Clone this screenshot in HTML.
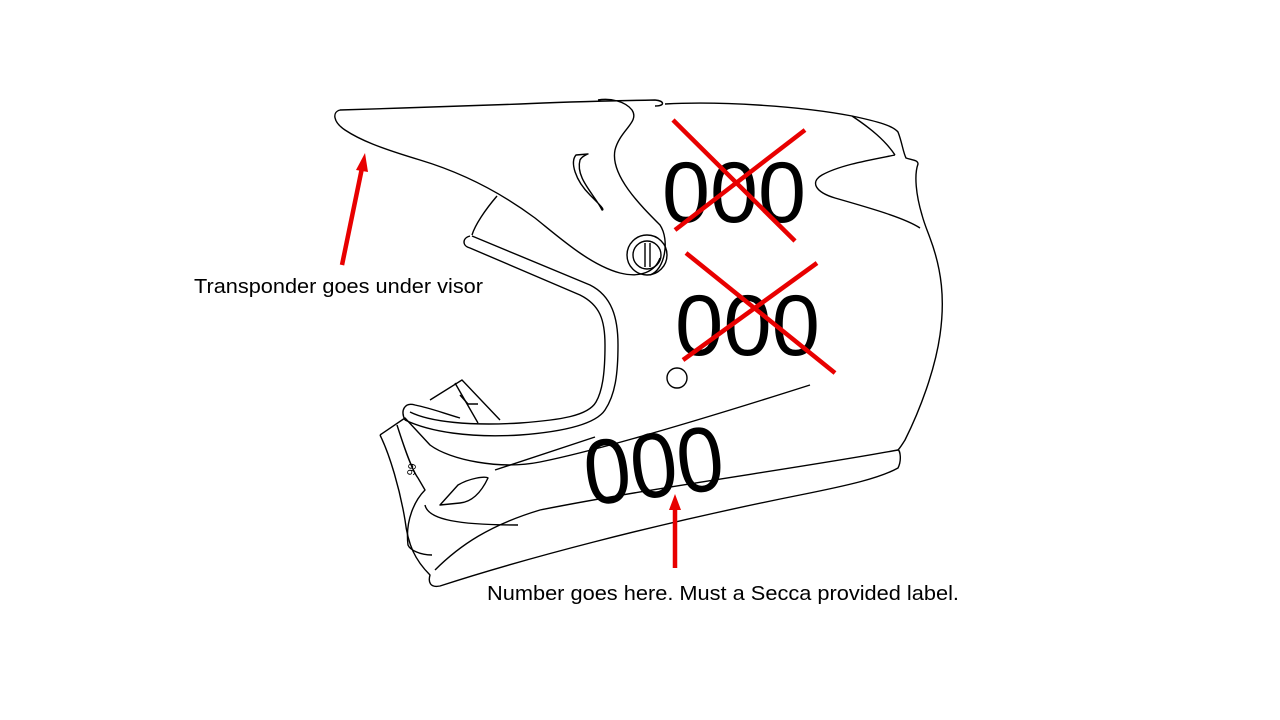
<!DOCTYPE html>
<html><head><style>
html,body{margin:0;padding:0;background:#fff;}
svg{display:block}
</style></head><body>
<svg width="1280" height="720" viewBox="0 0 1280 720" xmlns="http://www.w3.org/2000/svg">
<rect width="1280" height="720" fill="#fff"/>
<g fill="none" stroke="#000" stroke-width="1.4" stroke-linejoin="round">
<path d="M340,110 C332,112 333,122 345,130 C360,140 380,148 420,160 C460,172 500,192 535,218 C560,238 590,265 620,273 C640,278 655,272 660,258"/>
<path d="M340,110 C400,108 470,106 520,104 C560,102 600,101 655,100 C665,101 665,106 655,106"/>
<path d="M665,104 C720,101 800,106 852,116 C880,122 893,126 898,132 C902,142 903,152 906,158 C912,160 918,160 918,164 C914,175 916,195 922,215 C925,226 928,232 930,238"/>
<path d="M930,238 C942,270 945,300 940,335 C935,370 920,410 905,440 C900,448 898,450 898,450"/>
<path d="M852,116 C870,128 885,140 895,155"/>
<path d="M895,155 C870,160 840,165 822,175 C810,182 815,192 835,198 C870,208 905,218 920,228"/>
<path d="M598,100 C610,98 625,101 632,110 C640,122 620,130 615,150 C610,175 640,205 660,225 C670,240 665,270 650,275"/>
<path d="M576,155 C570,162 575,180 590,195 C600,205 605,210 602,210 C595,195 575,178 580,160 C582,156 588,154 588,154 Z"/>
<circle cx="647" cy="255" r="20"/>
<circle cx="647" cy="255" r="14"/>
<path d="M645,243 L645,267 M650,243 L650,267"/>
<circle cx="677" cy="378" r="10"/>
<path d="M497,196 C485,210 475,225 472,235"/>
<path d="M470,236 C462,238 462,246 470,248 L580,295 C600,305 605,320 605,345 C605,370 603,390 596,402 C588,416 560,420 520,423 C470,426 430,422 410,412"/>
<path d="M472,236 L590,285 C612,296 618,318 618,345 C618,375 615,395 605,410 C595,425 560,432 520,435 C470,438 430,432 405,420"/>
<path d="M405,420 C400,410 405,402 415,405 C430,408 440,412 460,418"/>
<path d="M380,435 L405,418 L430,445 C450,460 500,470 540,462 C600,450 700,420 810,385"/>
<path d="M380,435 C390,455 400,490 405,520 C408,545 415,560 430,575 C428,582 430,588 440,586 C520,560 650,525 800,495 C850,485 880,478 898,468 C902,460 900,450 898,450 C800,468 650,488 540,510 C490,525 460,545 435,570"/>
<path d="M397,425 C405,450 412,470 418,478 L425,490 C415,500 405,520 408,545 C410,550 420,555 432,555"/>
<path d="M425,505 C428,520 460,525 518,525"/>
<path d="M495,470 C540,455 570,445 595,437"/>
<path d="M440,505 L458,485 C470,478 485,476 488,478 C480,495 470,502 460,503 Z"/>
<path d="M430,400 L462,380 L500,420 M455,383 L478,423"/>
<path d="M460,395 L468,404 L478,404"/>
<text x="405" y="470" font-family="Liberation Sans,sans-serif" font-size="11" transform="rotate(100 410 468)" stroke="none" fill="#000">66</text>
</g>
<g font-family="Liberation Sans,sans-serif" fill="#000">
<text x="662" y="222" font-size="86" textLength="144" lengthAdjust="spacingAndGlyphs">000</text>
<text x="675" y="355" font-size="86" textLength="145" lengthAdjust="spacingAndGlyphs">000</text>
<text x="583" y="497" font-size="92" textLength="140" lengthAdjust="spacingAndGlyphs" transform="rotate(-7 655 460)">000</text>
</g>
<g stroke="#e80000" stroke-width="4.5" stroke-linecap="butt">
<line x1="673" y1="120" x2="795" y2="241"/>
<line x1="675" y1="230" x2="805" y2="130"/>
<line x1="686" y1="253" x2="835" y2="373"/>
<line x1="683" y1="360" x2="817" y2="263"/>
<line x1="342" y1="265" x2="362" y2="168"/>
<line x1="675" y1="568" x2="675" y2="508"/>
</g>
<g fill="#e80000">
<polygon points="365,153 356,170 368,172"/>
<polygon points="675,494 669,510 681,510"/>
</g>
<g font-family="Liberation Sans,sans-serif" font-size="20" fill="#000">
<text x="194" y="293" textLength="289" lengthAdjust="spacingAndGlyphs">Transponder goes under visor</text>
<text x="487" y="600" textLength="472" lengthAdjust="spacingAndGlyphs">Number goes here. Must a Secca provided label.</text>
</g>
</svg>
</body></html>
